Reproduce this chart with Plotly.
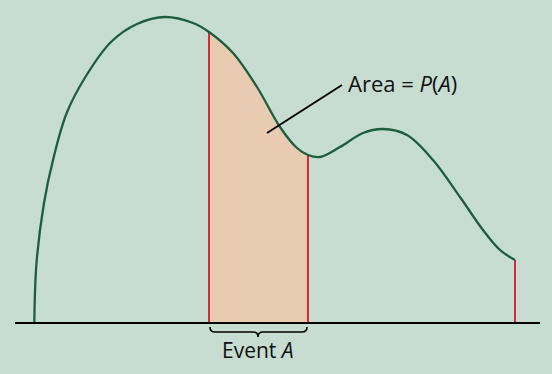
import plotly.graph_objects as go

# Density curve (x in horizontal units, y = height above baseline)
curve_x = [34.3, 36.5, 44, 53.5, 66.7, 86, 111, 137, 165, 193, 209,
           233, 257, 280, 297, 308, 320, 340, 363, 383, 407, 433, 460, 483, 500, 515]
curve_y = [0, 60, 120, 165, 210, 247, 281, 299, 306, 300, 291,
           270, 236, 196, 175, 168, 166, 176, 190, 194, 188, 163, 126, 93, 73, 63]

# Event A interval
event_x = [209, 233, 257, 280, 297, 308]
event_y = [291, 270, 236, 196, 175, 168]

# Red boundary lines (x, height)
bound_x = [209, 308, 515]
bound_h = [291, 168, 63]

axis_x = [15, 540]

BG = "#c7ddd1"
GREEN = "#1d5e40"
RED = "#d42a3a"
FILL = "#e8cbb0"
FONT = "Open Sans"

fig = go.Figure()

# shaded area
fig.add_trace(go.Scatter(x=event_x, y=event_y, mode="lines", line=dict(shape="spline", width=0, color=FILL),
                         fill="tozeroy", fillcolor=FILL, hoverinfo="skip"))

# red boundary lines
for bx, bh in zip(bound_x, bound_h):
    fig.add_trace(go.Scatter(x=[bx, bx], y=[0, bh], mode="lines",
                             line=dict(color=RED, width=2), hoverinfo="skip"))

# density curve
fig.add_trace(go.Scatter(x=curve_x, y=curve_y, mode="lines",
                         line=dict(shape="spline", color=GREEN, width=2.3), hoverinfo="skip"))

# baseline
fig.add_trace(go.Scatter(x=axis_x, y=[0, 0], mode="lines",
                         line=dict(color="black", width=2), hoverinfo="skip"))

# pointer line for area label
fig.add_trace(go.Scatter(x=[267, 342], y=[190, 238], mode="lines",
                         line=dict(color="black", width=2), hoverinfo="skip"))

# brace under event interval
fig.add_shape(type="path",
              path="M 210,-4 Q 210,-9 215,-9 L 253,-9 Q 258,-9 258,-14 Q 258,-9 263,-9 "
                   "L 302,-9 Q 307,-9 307,-4",
              line=dict(color="black", width=1.6))

fig.add_annotation(x=346, y=240, text="Area = <i>P</i>(<i>A</i>)", showarrow=False,
                   xanchor="left", yanchor="middle", font=dict(family=FONT, size=22, color="#111"))
fig.add_annotation(x=258, y=-27, text="Event <i>A</i>", showarrow=False,
                   xanchor="center", yanchor="middle", font=dict(family=FONT, size=21, color="#111"))

fig.update_layout(
    width=552, height=374, margin=dict(l=0, r=0, t=0, b=0),
    paper_bgcolor=BG, plot_bgcolor=BG, showlegend=False,
    xaxis=dict(range=[0, 552], visible=False, fixedrange=True),
    yaxis=dict(range=[-51, 323], visible=False, fixedrange=True),
)

fig.write_html("out.html")
